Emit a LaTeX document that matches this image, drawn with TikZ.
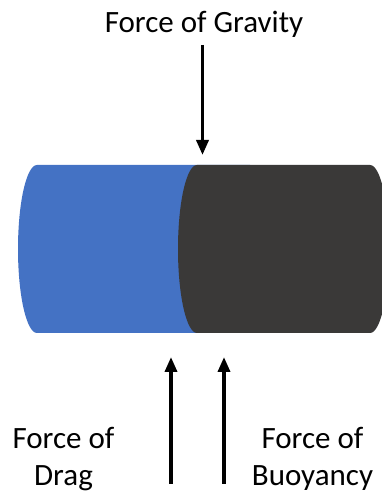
\documentclass[tikz,border=0pt]{standalone}
\usepackage{fontspec}
\setmainfont{Carlito}
\usetikzlibrary{arrows.meta}
\definecolor{bodyblue}{HTML}{4472C4}
\definecolor{bodydark}{HTML}{3A3938}
\tikzset{
  force/.style={line width=3.5pt, -{Triangle[length=15pt,width=12pt]}},
  lbl/.style={font=\fontsize{31}{37}\selectfont, align=center, inner sep=0pt, anchor=base}
}
\begin{document}
\begin{tikzpicture}[x=1pt,y=1pt]
  \useasboundingbox (0,0) rectangle (382,496);
  \clip (0,0) rectangle (382,496);
  % cylinder body: blue section, then dark section laid over it
  \fill[bodyblue] (37,331) arc[start angle=90,end angle=270,x radius=19,y radius=84]
    -- (250,163) -- (250,331) -- cycle;
  \fill[bodydark] (197,331) arc[start angle=90,end angle=270,x radius=19,y radius=84]
    -- (370,163) arc[start angle=-90,end angle=90,x radius=19,y radius=84] -- cycle;
  % labels
  \node[lbl] (grav) at (204,463) {Force of Gravity};
  \node[lbl] (drag) at (63.5,10) {Force of\\Drag};
  \node[lbl] (buoy) at (312.5,10) {Force of\\Buoyancy};
  % arrow end points
  \coordinate (g0) at (202.5,451);
  \coordinate (g1) at (202.5,341);
  \coordinate (d0) at (171,12);
  \coordinate (d1) at (171,139);
  \coordinate (b0) at (224,12);
  \coordinate (b1) at (224,139);
  \draw[force] (g0) -- (g1);
  \draw[force] (d0) -- (d1);
  \draw[force] (b0) -- (b1);
\end{tikzpicture}
\end{document}
